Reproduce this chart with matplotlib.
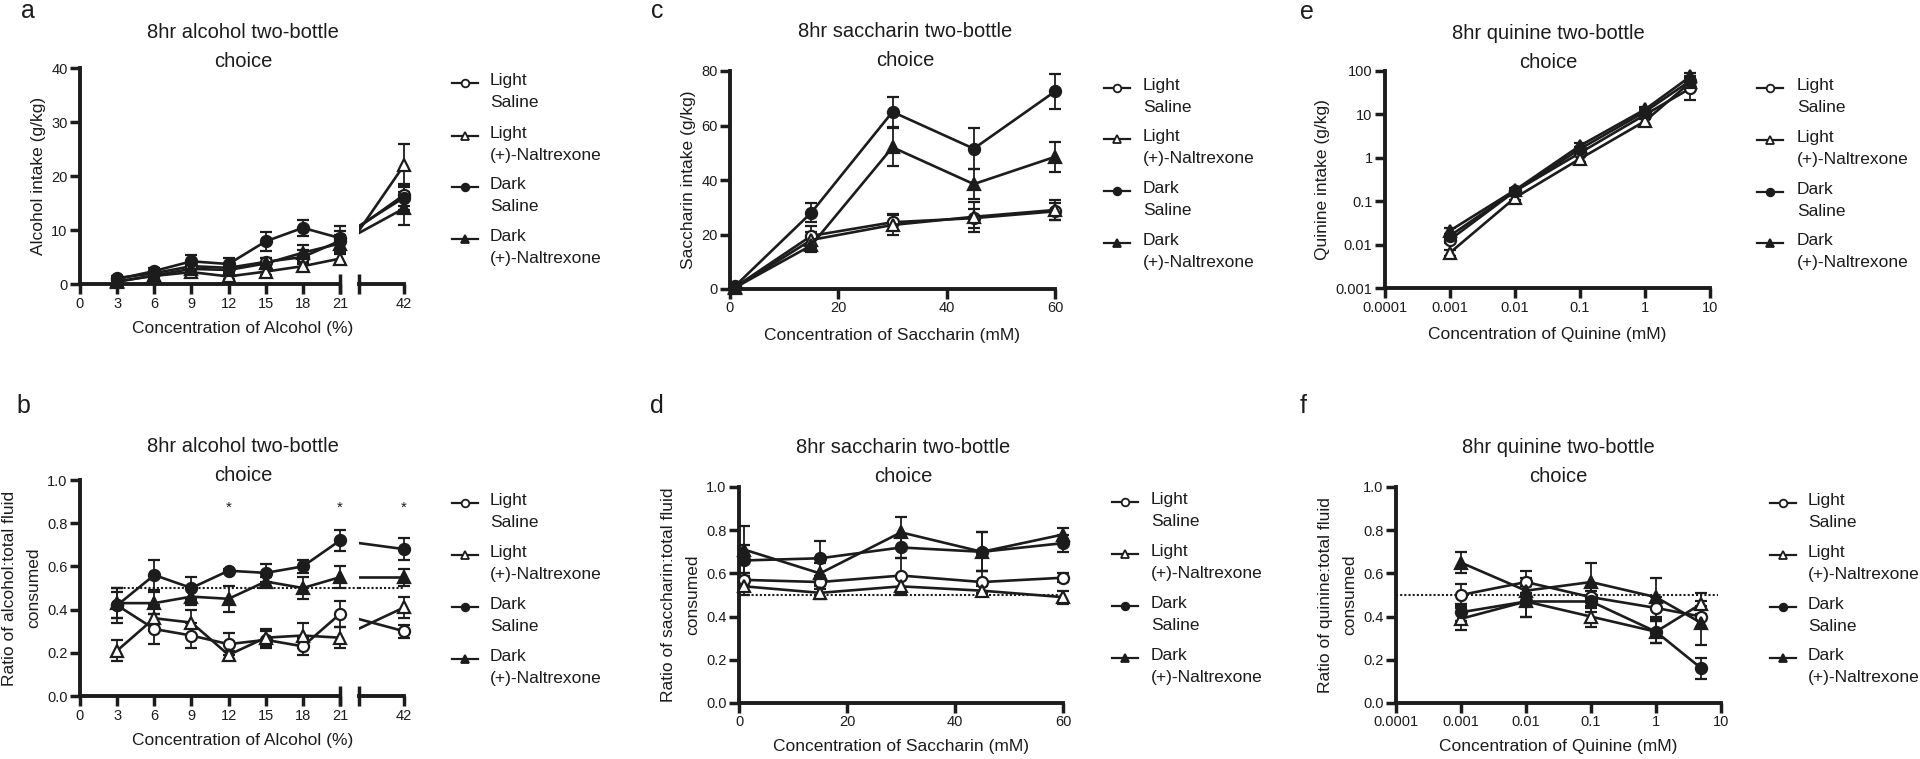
import numpy as np
import matplotlib
matplotlib.use('Agg')
import matplotlib.pyplot as plt
from matplotlib.lines import Line2D
from matplotlib.ticker import FuncFormatter, NullLocator

plt.rcParams['font.family'] = ['Liberation Sans', 'DejaVu Sans']

NEGRO = '#1c1c1c'
W, H = 1920, 759

# ---------------- datos ----------------
grupos = ['Light\nSaline', 'Light\n(+)-Naltrexone', 'Dark\nSaline', 'Dark\n(+)-Naltrexone']
marcas = ['o', '^', 'o', '^']
rellenos = ['white', 'white', NEGRO, NEGRO]

# alcohol (%)
alc_x = [3, 6, 9, 12, 15, 18, 21, 42]
a_light_sal = [1.1, 2.0, 3.3, 3.0, 4.1, 5.0, 8.0, 16.5]
a_light_sal_err = [0.4, 0.5, 0.8, 0.9, 0.8, 1.3, 1.8, 2.0]
a_light_nal = [0.5, 1.5, 2.2, 1.4, 2.3, 3.3, 4.7, 22.0]
a_light_nal_err = [0.3, 0.4, 0.6, 0.5, 0.6, 0.7, 0.9, 4.0]
a_dark_sal = [0.9, 2.4, 4.2, 3.7, 7.9, 10.4, 8.5, 16.0]
a_dark_sal_err = [0.3, 0.5, 1.2, 1.2, 1.7, 1.5, 2.2, 2.3]
a_dark_nal = [0.4, 1.6, 2.8, 2.6, 3.8, 5.8, 7.5, 14.0]
a_dark_nal_err = [0.3, 0.5, 0.8, 0.8, 1.0, 1.5, 1.5, 3.0]

b_light_sal = [0.42, 0.31, 0.28, 0.24, 0.26, 0.23, 0.38, 0.30]
b_light_sal_err = [0.08, 0.07, 0.06, 0.05, 0.04, 0.04, 0.06, 0.03]
b_light_nal = [0.21, 0.36, 0.34, 0.19, 0.27, 0.28, 0.27, 0.41]
b_light_nal_err = [0.05, 0.06, 0.06, 0.02, 0.04, 0.06, 0.05, 0.05]
b_dark_sal = [0.42, 0.56, 0.50, 0.58, 0.57, 0.60, 0.72, 0.68]
b_dark_sal_err = [0.06, 0.07, 0.05, 0.01, 0.04, 0.03, 0.05, 0.05]
b_dark_nal = [0.43, 0.43, 0.46, 0.45, 0.53, 0.50, 0.55, 0.55]
b_dark_nal_err = [0.07, 0.05, 0.04, 0.06, 0.02, 0.05, 0.05, 0.04]
b_signif_x = [12, 21, 42]
b_signif_y = 0.87

# sacarina (mM)
sac_x = [1, 15, 30, 45, 60]
c_light_sal = [0.8, 19.5, 24.5, 26.0, 28.5]
c_light_sal_err = [0.5, 3.5, 3.0, 3.5, 3.0]
c_light_nal = [0.5, 18.0, 23.5, 26.5, 29.0]
c_light_nal_err = [0.4, 3.0, 3.5, 5.5, 3.5]
c_dark_sal = [1.2, 28.0, 65.0, 51.5, 72.5]
c_dark_sal_err = [0.5, 3.5, 5.5, 7.5, 6.5]
c_dark_nal = [0.6, 16.0, 52.0, 38.5, 48.5]
c_dark_nal_err = [0.4, 2.5, 7.0, 5.5, 5.5]

d_light_sal = [0.57, 0.56, 0.59, 0.56, 0.58]
d_light_sal_err = [0.03, 0.03, 0.08, 0.05, 0.02]
d_light_nal = [0.54, 0.51, 0.54, 0.52, 0.49]
d_light_nal_err = [0.04, 0.03, 0.04, 0.02, 0.03]
d_dark_sal = [0.66, 0.67, 0.72, 0.70, 0.74]
d_dark_sal_err = [0.07, 0.08, 0.05, 0.09, 0.04]
d_dark_nal = [0.71, 0.60, 0.79, 0.70, 0.78]
d_dark_nal_err = [0.11, 0.05, 0.07, 0.09, 0.03]

# quinina (mM)
qui_x = [0.001, 0.01, 0.1, 1, 5]
e_light_sal = [0.013, 0.17, 1.3, 9.8, 40]
e_light_sal_err = [0.002, 0.02, 0.2, 2.0, 18]
e_light_nal = [0.0065, 0.12, 0.95, 7.0, 55]
e_light_nal_err = [0.001, 0.015, 0.15, 1.2, 15]
e_dark_sal = [0.016, 0.17, 1.6, 11.5, 60]
e_dark_sal_err = [0.002, 0.02, 0.2, 1.5, 15]
e_dark_nal = [0.021, 0.18, 1.9, 13.0, 75]
e_dark_nal_err = [0.003, 0.02, 0.25, 2.0, 15]

f_light_sal = [0.50, 0.56, 0.49, 0.44, 0.40]
f_light_sal_err = [0.05, 0.05, 0.05, 0.05, 0.05]
f_light_nal = [0.39, 0.47, 0.40, 0.33, 0.46]
f_light_nal_err = [0.05, 0.07, 0.05, 0.05, 0.05]
f_dark_sal = [0.42, 0.47, 0.47, 0.33, 0.16]
f_dark_sal_err = [0.04, 0.07, 0.05, 0.05, 0.05]
f_dark_nal = [0.65, 0.52, 0.56, 0.49, 0.37]
f_dark_nal_err = [0.05, 0.06, 0.09, 0.09, 0.10]

CHANCE = 0.5

# tamaños de letra
FS_TICK = 10.5
FS_LAB = 12.5
FS_TIT = 14.5
FS_LEY = 12.5

# ---------------- figura ----------------
fig = plt.figure(figsize=(W / 100, H / 100), dpi=100)


def ejes(izq, arr, der, aba):
    return fig.add_axes([izq / W, 1 - aba / H, (der - izq) / W, (aba - arr) / H])


def estilo(ax, izquierda=True):
    ax.patch.set_alpha(0)
    for s in ['top', 'right']:
        ax.spines[s].set_visible(False)
    for s in ['left', 'bottom']:
        ax.spines[s].set_linewidth(2.8)
        ax.spines[s].set_color(NEGRO)
    ax.tick_params(direction='out', length=7, width=2.5, labelsize=FS_TICK,
                   colors=NEGRO, pad=2)
    ax.tick_params(which='minor', length=0)
    if not izquierda:
        ax.spines['left'].set_visible(False)
        ax.tick_params(left=False, labelleft=False)


def serie(ax, x, y, e, i):
    ax.errorbar(x, y, yerr=e, color=NEGRO, lw=1.9, marker=marcas[i],
                mfc=rellenos[i], mec=NEGRO, ms=8, mew=1.6, capsize=4,
                elinewidth=1.3, capthick=1.3, clip_on=False, zorder=3)


def azar(ax, x0, x1, **kw):
    ax.plot([x0, x1], [CHANCE, CHANCE], color=NEGRO, lw=1.5,
            ls=(0, (1, 1)), zorder=1, **kw)


def titulo(cx, cy, texto):
    fig.text(cx / W, 1 - cy / H, texto, ha='center', va='center',
             fontsize=FS_TIT, color=NEGRO, linespacing=1.7)


def letra(x, y, t):
    fig.text(x / W, 1 - y / H, t, ha='center', va='center', fontsize=18,
             color=NEGRO)


def etiqueta_y(ax, texto, pad=4):
    ax.set_ylabel(texto, fontsize=FS_LAB, color=NEGRO, labelpad=pad,
                  linespacing=1.8)


def leyenda(xm, xt, filas):
    for i, yp in enumerate(filas):
        fig.add_artist(Line2D([(xm - 13) / W, xm / W, (xm + 13) / W],
                              [1 - yp / H] * 3, color=NEGRO, lw=1.6,
                              marker=marcas[i], markevery=[1], ms=5.5,
                              mfc=rellenos[i], mec=NEGRO, mew=1.3))
        fig.text(xt / W, 1 - (yp - 10) / H, grupos[i], ha='left', va='top',
                 fontsize=FS_LEY, color=NEGRO, linespacing=1.6)


def tapa(ax, xa):
    ax.plot([xa], [0], marker='|', ms=14, mew=2.5, color=NEGRO,
            transform=ax.transAxes, clip_on=False)


def panel_roto(arr, aba, ys, es, ylim, yticks, fmt):
    ax1 = ejes(80, arr, 340, aba)
    ax2 = ejes(359, arr, 404, aba)
    estilo(ax1)
    estilo(ax2, izquierda=False)
    ax1.set_xlim(0, 21)
    ax2.set_xlim(27.3, 42)
    ax1.set_ylim(ylim)
    ax2.set_ylim(ylim)
    ax1.set_xticks([0] + alc_x[:-1])
    ax2.set_xticks(alc_x[-1:])
    ax1.set_yticks(yticks)
    ax1.yaxis.set_major_formatter(FuncFormatter(lambda v, p: fmt % v))
    for i in range(4):
        serie(ax1, alc_x[:-1], ys[i][:-1], es[i][:-1], i)
        ax2.plot(alc_x[-2:], ys[i][-2:], color=NEGRO, lw=1.9, zorder=2)
        serie(ax2, alc_x[-1:], ys[i][-1:], es[i][-1:], i)
    tapa(ax1, 1)
    tapa(ax2, 0)
    return ax1, ax2


# ---- a ----
a1, a2 = panel_roto(68, 284,
                    [a_light_sal, a_light_nal, a_dark_sal, a_dark_nal],
                    [a_light_sal_err, a_light_nal_err, a_dark_sal_err, a_dark_nal_err],
                    (0, 40), [0, 10, 20, 30, 40], '%g')
etiqueta_y(a1, 'Alcohol intake (g/kg)')
fig.text(243 / W, 1 - 328 / H, 'Concentration of Alcohol (%)', ha='center',
         va='center', fontsize=FS_LAB, color=NEGRO)
titulo(243, 47, '8hr alcohol two-bottle\nchoice')
letra(28, 11, 'a')
leyenda(465, 490, [83, 136, 187, 239])

# ---- b ----
b1, b2 = panel_roto(480, 696,
                    [b_light_sal, b_light_nal, b_dark_sal, b_dark_nal],
                    [b_light_sal_err, b_light_nal_err, b_dark_sal_err, b_dark_nal_err],
                    (0, 1), [0, 0.2, 0.4, 0.6, 0.8, 1.0], '%.1f')
# la linea punteada cruza el corte
azar(b1, 2.5, 22.6, clip_on=False)
azar(b2, 27.3, 41.7)
for xs in b_signif_x:
    ax = b1 if xs <= 21 else b2
    ax.text(xs, b_signif_y, '*', ha='center', va='center', fontsize=11,
            color=NEGRO, clip_on=False)
etiqueta_y(b1, 'Ratio of alcohol:total fluid\nconsumed')
fig.text(243 / W, 1 - 740 / H, 'Concentration of Alcohol (%)', ha='center',
         va='center', fontsize=FS_LAB, color=NEGRO)
titulo(243, 461, '8hr alcohol two-bottle\nchoice')
letra(23, 406, 'b')
leyenda(465, 490, [503, 555, 607, 659])

# ---- c ----
c = ejes(730, 71, 1055, 289)
estilo(c)
c.set_xlim(0, 60)
c.set_ylim(0, 80)
c.set_xticks([0, 20, 40, 60])
c.set_yticks([0, 20, 40, 60, 80])
for i, (y, e) in enumerate(zip([c_light_sal, c_light_nal, c_dark_sal, c_dark_nal],
                               [c_light_sal_err, c_light_nal_err, c_dark_sal_err, c_dark_nal_err])):
    serie(c, sac_x, y, e, i)
etiqueta_y(c, 'Saccharin intake (g/kg)')
c.set_xlabel('Concentration of Saccharin (mM)', fontsize=FS_LAB, color=NEGRO, labelpad=9)
titulo(905, 46, '8hr saccharin two-bottle\nchoice')
letra(657, 11, 'c')
leyenda(1117, 1143, [88, 139, 191, 243])

# ---- d ----
d = ejes(739, 487, 1063, 703)
estilo(d)
d.set_xlim(0, 60)
d.set_ylim(0, 1)
d.set_xticks([0, 20, 40, 60])
d.set_yticks([0, 0.2, 0.4, 0.6, 0.8, 1.0])
d.yaxis.set_major_formatter(FuncFormatter(lambda v, p: '%.1f' % v))
azar(d, 0, 60)
for i, (y, e) in enumerate(zip([d_light_sal, d_light_nal, d_dark_sal, d_dark_nal],
                               [d_light_sal_err, d_light_nal_err, d_dark_sal_err, d_dark_nal_err])):
    serie(d, sac_x, y, e, i)
etiqueta_y(d, 'Ratio of saccharin:total fluid\nconsumed')
d.set_xlabel('Concentration of Saccharin (mM)', fontsize=FS_LAB, color=NEGRO, labelpad=7)
titulo(903, 462, '8hr saccharin two-bottle\nchoice')
letra(657, 406, 'd')
leyenda(1125, 1151, [502, 554, 606, 658])

# ---- e ----
e_ax = ejes(1385, 71, 1710, 288)
estilo(e_ax)
e_ax.set_xscale('log')
e_ax.set_yscale('log')
e_ax.set_xlim(1e-4, 10)
e_ax.set_ylim(1e-3, 100)
e_ax.set_xticks([1e-4, 1e-3, 1e-2, 1e-1, 1, 10])
e_ax.set_yticks([1e-3, 1e-2, 1e-1, 1, 10, 100])
e_ax.xaxis.set_minor_locator(NullLocator())
e_ax.yaxis.set_minor_locator(NullLocator())
e_ax.xaxis.set_major_formatter(FuncFormatter(lambda v, p: '%g' % v))
e_ax.yaxis.set_major_formatter(FuncFormatter(lambda v, p: '%g' % v))
for i, (y, er) in enumerate(zip([e_light_sal, e_light_nal, e_dark_sal, e_dark_nal],
                                [e_light_sal_err, e_light_nal_err, e_dark_sal_err, e_dark_nal_err])):
    serie(e_ax, qui_x, y, er, i)
etiqueta_y(e_ax, 'Quinine intake (g/kg)')
e_ax.set_xlabel('Concentration of Quinine (mM)', fontsize=FS_LAB, color=NEGRO, labelpad=9)
titulo(1548, 48, '8hr quinine two-bottle\nchoice')
letra(1307, 12, 'e')
leyenda(1770, 1797, [88, 140, 192, 243])

# ---- f ----
f = ejes(1396, 487, 1721, 703)
estilo(f)
f.set_xscale('log')
f.set_xlim(1e-4, 10)
f.set_ylim(0, 1)
f.set_xticks([1e-4, 1e-3, 1e-2, 1e-1, 1, 10])
f.xaxis.set_minor_locator(NullLocator())
f.xaxis.set_major_formatter(FuncFormatter(lambda v, p: '%g' % v))
f.set_yticks([0, 0.2, 0.4, 0.6, 0.8, 1.0])
f.yaxis.set_major_formatter(FuncFormatter(lambda v, p: '%.1f' % v))
azar(f, 1e-4, 9)
for i, (y, er) in enumerate(zip([f_light_sal, f_light_nal, f_dark_sal, f_dark_nal],
                                [f_light_sal_err, f_light_nal_err, f_dark_sal_err, f_dark_nal_err])):
    serie(f, qui_x, y, er, i)
etiqueta_y(f, 'Ratio of quinine:total fluid\nconsumed')
f.set_xlabel('Concentration of Quinine (mM)', fontsize=FS_LAB, color=NEGRO, labelpad=7)
titulo(1558, 462, '8hr quinine two-bottle\nchoice')
letra(1303, 406, 'f')
leyenda(1783, 1808, [503, 555, 607, 658])

fig.savefig('out.png', dpi=100)
